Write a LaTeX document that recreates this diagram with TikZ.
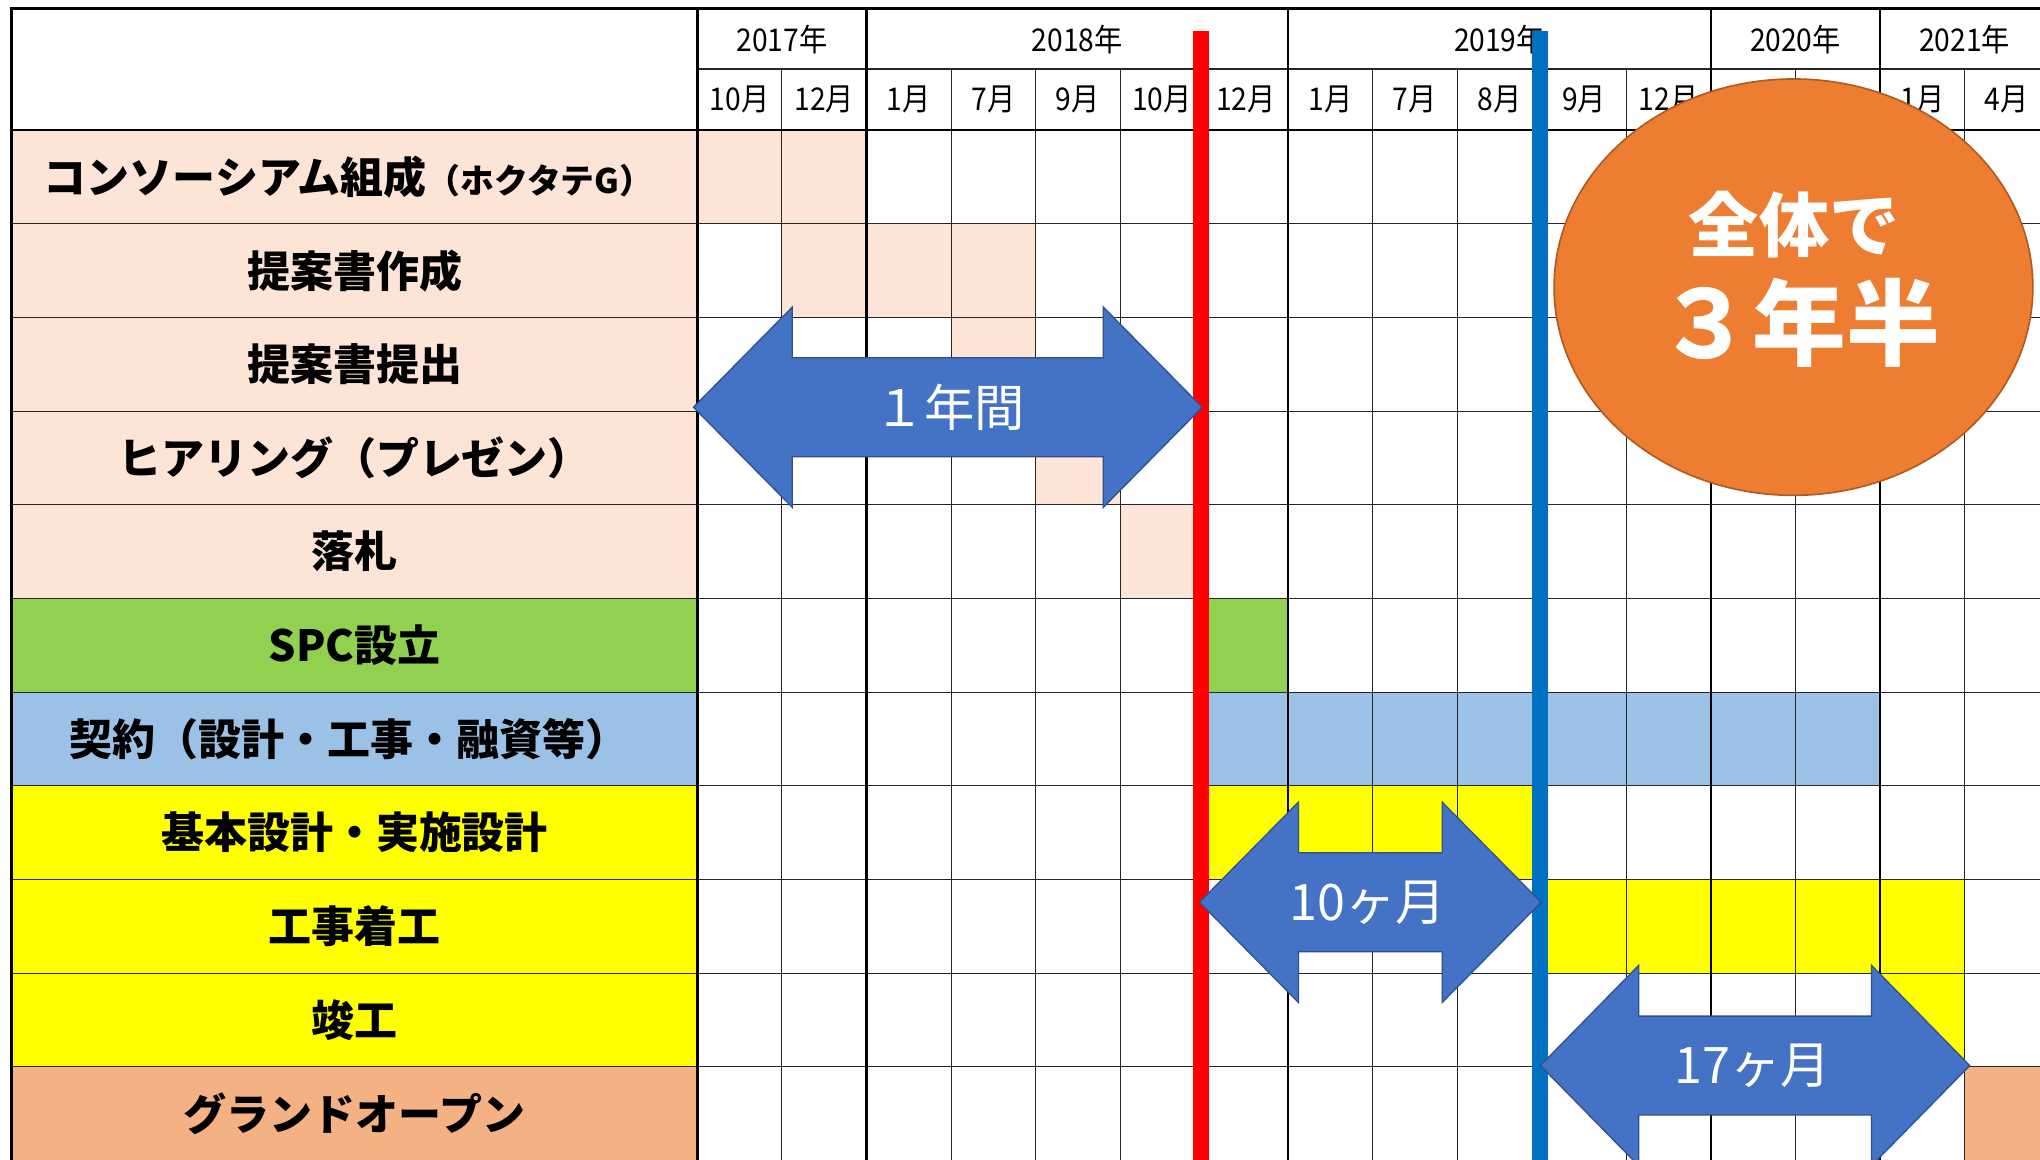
\documentclass[tikz,border=0pt]{standalone}
\usepackage{fontspec}
\setmainfont{Noto Sans CJK JP}
\newfontfamily\narrowfont[FakeStretch=0.9]{Noto Sans CJK JP}
\usetikzlibrary{shapes.geometric}

\definecolor{peach}{HTML}{FCE4D6}
\definecolor{spcgreen}{HTML}{92D050}
\definecolor{paleblue}{HTML}{9BC2E6}
\definecolor{worky}{HTML}{FFFF00}
\definecolor{openorange}{HTML}{F4B183}
\definecolor{vred}{HTML}{FF0000}
\definecolor{vblue}{HTML}{0070C0}
\definecolor{arrowblue}{HTML}{4472C4}
\definecolor{arrowedge}{HTML}{2F528F}
\definecolor{bubble}{HTML}{ED7D31}
\definecolor{bubbleedge}{HTML}{AE5A21}

\tikzset{
  thinrule/.style={line width=0.17mm,black!85},
  thickrule/.style={line width=0.4mm,black},
  hdrtext/.style={font=\narrowfont\fontsize{13.7}{16}\selectfont,inner sep=0pt},
  rowlabel/.style={font=\bfseries\fontsize{18.8}{22}\selectfont,inner sep=0pt},
  spanarrow/.style={fill=arrowblue,draw=arrowedge,line width=0.2mm,line join=miter},
  spanlabel/.style={text=white,font=\fontsize{22}{26}\selectfont,inner sep=0pt},
  marker/.style={line width=2.4mm}
}

\begin{document}
\begin{tikzpicture}[x=0.2mm,y=-0.2mm]
    \useasboundingbox (0,0) rectangle (1568,891);
    \clip (0,0) rectangle (1568,891);
    \fill[white] (0,0) rectangle (1568,891);
    \fill[peach] (9,100) rectangle (536,460);
    \fill[spcgreen] (9,460) rectangle (536,532);
    \fill[paleblue] (9,532) rectangle (536,604);
    \fill[worky] (9,604) rectangle (536,820);
    \fill[openorange] (9,820) rectangle (536,900);
    \fill[peach] (536,100) rectangle (666,172);
    \fill[peach] (601,172) rectangle (796,244);
    \fill[peach] (731,244) rectangle (796,316);
    \fill[peach] (796,316) rectangle (861,388);
    \fill[peach] (861,388) rectangle (925,460);
    \fill[spcgreen] (925,460) rectangle (990,532);
    \fill[paleblue] (925,532) rectangle (1445,604);
    \fill[worky] (925,604) rectangle (1185,676);
    \fill[worky] (1185,676) rectangle (1510,748);
    \fill[worky] (1445,748) rectangle (1510,820);
    \fill[openorange] (1510,820) rectangle (1575,900);
    \draw[thinrule] (536,53) -- (1580,53);
    \foreach \x in {601,731,796,861,925,1055,1120,1185,1250,1380,1510}
        \draw[thinrule] (\x,53) -- (\x,900);
    \foreach \y in {172,244,...,820}
        \draw[thinrule] (9,\y) -- (1580,\y);
    \draw[thickrule,line cap=rect] (1580,6.4) -- (9,6.4) -- (9,900);
    \draw[thickrule] (9,100) -- (1580,100);
    \foreach \x in {536,666,990,1315,1445}
        \draw[thickrule] (\x,6.4) -- (\x,900);
    \node[hdrtext] (y2017) at (601,30) {2017年};
    \node[hdrtext] (y2018) at (828,30) {2018年};
    \node[hdrtext] (y2019) at (1152.5,30) {2019年};
    \node[hdrtext] (y2020) at (1380,30) {2020年};
    \node[hdrtext] (y2021) at (1510,30) {2021年};
    \node[hdrtext] (m1) at (568.5,76.5) {10月};
    \node[hdrtext] (m2) at (633.5,76.5) {12月};
    \node[hdrtext] (m3) at (698.5,76.5) {1月};
    \node[hdrtext] (m4) at (763.5,76.5) {7月};
    \node[hdrtext] (m5) at (828.5,76.5) {9月};
    \node[hdrtext] (m6) at (893,76.5) {10月};
    \node[hdrtext] (m7) at (957.5,76.5) {12月};
    \node[hdrtext] (m8) at (1022.5,76.5) {1月};
    \node[hdrtext] (m9) at (1087.5,76.5) {7月};
    \node[hdrtext] (m10) at (1152.5,76.5) {8月};
    \node[hdrtext] (m11) at (1217.5,76.5) {9月};
    \node[hdrtext] (m12) at (1282.5,76.5) {12月};
    \node[hdrtext] (m13) at (1477.5,76.5) {1月};
    \node[hdrtext] (m14) at (1542.5,76.5) {4月};
    \node[rowlabel] (consortium) at (268,136) {コンソーシアム組成{\fontsize{14.8}{17}\selectfont （ホクタテG）}};
    \node[rowlabel] (draft) at (272.5,208) {提案書作成};
    \node[rowlabel] (submit) at (272.5,280) {提案書提出};
    \node[rowlabel] (hearing) at (272.5,352) {ヒアリング（プレゼン）};
    \node[rowlabel] (award) at (272.5,424) {落札};
    \node[rowlabel] (spc) at (272.5,496) {SPC設立};
    \node[rowlabel] (contract) at (268,568) {契約（設計・工事・融資等）};
    \node[rowlabel] (design) at (272.5,640) {基本設計・実施設計};
    \node[rowlabel] (start) at (272.5,712) {工事着工};
    \node[rowlabel] (finish) at (272.5,784) {竣工};
    \node[rowlabel] (opening) at (272.5,856) {グランドオープン};
    \draw[marker,vred] (923,24) -- (923,900);
    \draw[marker,vblue] (1183.8,24) -- (1183.8,900);
    \node[ellipse,fill=bubble,draw=bubbleedge,line width=0.25mm,minimum width=73.6mm,minimum height=64mm,inner sep=0pt] (whole) at (1378.5,220.7) {};
    \node[text=white,font=\bfseries\fontsize{30.7}{36}\selectfont,inner sep=0pt] (wholea) at (1379,173) {全体で};
    \node[text=white,font=\bfseries\fontsize{41}{46}\selectfont,inner sep=0pt] (wholeb) at (1383,248) {３年半};
    \draw[spanarrow] (533,313) -- ++(76,-77) -- ++(0,39) -- ++(239,0) -- ++(0,-39) -- ++(76,77) -- ++(-76,77) -- ++(0,-39) -- ++(-239,0) -- ++(0,39) -- cycle;
    \node[spanlabel] (oneyear) at (730,313) {１年間};
    \draw[spanarrow] (922,693.5) -- ++(76,-77) -- ++(0,39) -- ++(110.5,0) -- ++(0,-39) -- ++(76,77) -- ++(-76,77) -- ++(0,-39) -- ++(-110.5,0) -- ++(0,39) -- cycle;
    \node[spanlabel] (tenmonths) at (1051,693.5) {10ヶ月};
    \draw[spanarrow] (1184,819) -- ++(75.5,-77) -- ++(0,39) -- ++(179,0) -- ++(0,-39) -- ++(75.5,77) -- ++(-75.5,77) -- ++(0,-39) -- ++(-179,0) -- ++(0,39) -- cycle;
    \node[spanlabel] (seventeen) at (1347,819) {17ヶ月};
\end{tikzpicture}
\end{document}
